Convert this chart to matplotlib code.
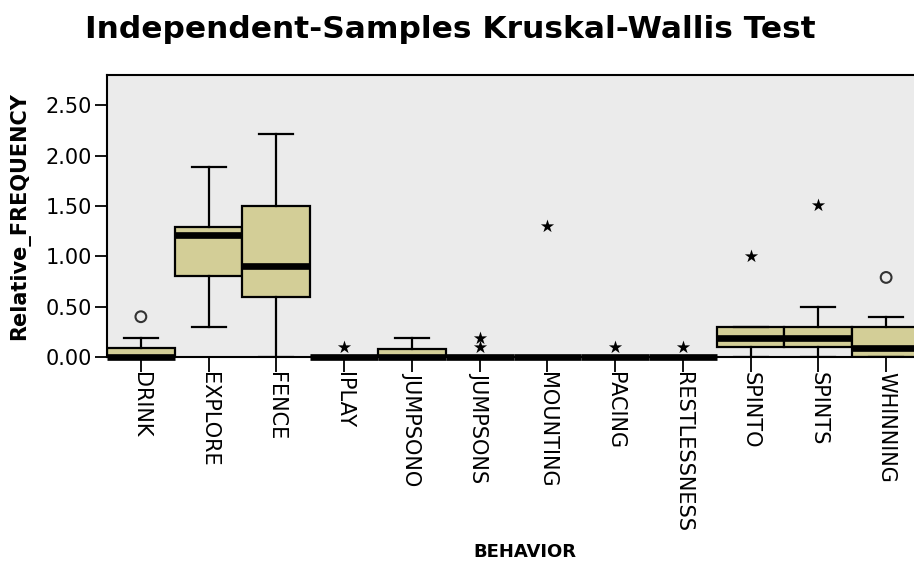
import matplotlib
matplotlib.use("Agg")
import matplotlib.pyplot as plt

categories = ["DRINK", "EXPLORE", "FENCE", "IPLAY", "JUMPSONO", "JUMPSONS",
              "MOUNTING", "PACING", "RESTLESSNESS", "SPINTO", "SPINTS", "WHINNING"]
q1 =      [0.0, 0.80, 0.60, 0.0, 0.0, 0.0, 0.0, 0.0, 0.0, 0.10, 0.10, 0.0]
medians = [0.0, 1.21, 0.90, 0.0, 0.0, 0.0, 0.0, 0.0, 0.0, 0.19, 0.19, 0.09]
q3 =      [0.09, 1.29, 1.50, 0.0, 0.08, 0.0, 0.0, 0.0, 0.0, 0.30, 0.30, 0.30]
whislo =  [0.0, 0.30, 0.0, 0.0, 0.0, 0.0, 0.0, 0.0, 0.0, 0.0, 0.0, 0.0]
whishi =  [0.19, 1.89, 2.21, 0.0, 0.19, 0.0, 0.0, 0.0, 0.0, 0.30, 0.50, 0.40]

# outliers (circles) and extremes (stars): (category index, value)
outlier_idx = [0, 11]
outlier_val = [0.40, 0.79]
extreme_idx = [3, 5, 5, 6, 7, 8, 9, 10]
extreme_val = [0.10, 0.10, 0.19, 1.30, 0.10, 0.10, 1.00, 1.51]

yticks = [0.0, 0.5, 1.0, 1.5, 2.0, 2.5]

BOX = "#D3CE97"
BG = "#EBEBEB"

fig = plt.figure(figsize=(9.14, 5.62), dpi=100)
ax = fig.add_axes([107/914, 205/562, 813/914, 282/562])
ax.set_facecolor(BG)

stats = []
for i, c in enumerate(categories):
    stats.append(dict(label=c, q1=q1[i], med=medians[i], q3=q3[i],
                      whislo=whislo[i], whishi=whishi[i], fliers=[]))

pos = list(range(len(categories)))
ax.bxp(stats, positions=pos, widths=1.0, patch_artist=True, showfliers=False,
       boxprops=dict(facecolor=BOX, edgecolor="black", linewidth=1.6),
       medianprops=dict(color="black", linewidth=4.8, solid_capstyle="butt", clip_on=False),
       whiskerprops=dict(color="black", linewidth=1.6),
       capprops=dict(color="black", linewidth=1.6),
       capwidths=0.5)

ax.scatter(outlier_idx, outlier_val, marker="o", s=60, facecolors="none",
           edgecolors="#333333", linewidths=1.5, zorder=5)
ax.scatter(extreme_idx, extreme_val, marker="*", s=100, color="black",
           linewidths=0, zorder=5)

ax.set_xlim(-0.5, len(categories) - 0.5)
ax.set_ylim(0, 2.8)
ax.set_yticks(yticks)
ax.set_yticklabels([f"{v:.2f}" for v in yticks])
ax.set_xticks(pos)
ax.set_xticklabels(categories, rotation=270, ha="center", va="top")

ax.tick_params(axis="x", length=11, width=1.3, pad=0, labelsize=15, colors="black")
ax.tick_params(axis="y", length=9, width=1.3, pad=2, labelsize=15, colors="black")
for sp in ax.spines.values():
    sp.set_linewidth(1.5)
    sp.set_color("black")

ax.set_ylabel("Relative_FREQUENCY", fontsize=15, fontweight="bold")
ax.yaxis.set_label_coords(-0.094, 0.5)
fig.text(525/914, 1 - 552/562, "BEHAVIOR", fontsize=13, fontweight="bold",
         ha="center", va="center")
fig.text(450/914, 1 - 30/562, "Independent-Samples Kruskal-Wallis Test",
         fontsize=22.5, fontweight="bold", ha="center", va="center")

fig.savefig("out.png", dpi=100)
